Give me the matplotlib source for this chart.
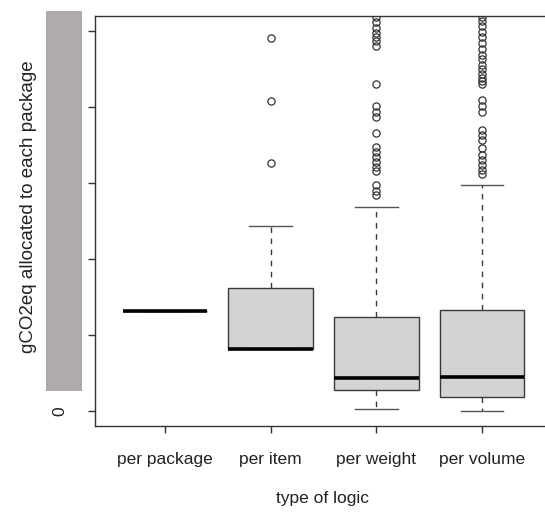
import matplotlib
matplotlib.use("Agg")
import matplotlib.pyplot as plt
from matplotlib.patches import Rectangle

plt.rcParams['font.family'] = ['Liberation Sans', 'DejaVu Sans']

categories = ["per package", "per item", "per weight", "per volume"]
q1 = [1.31, 0.81, 0.27, 0.18]
median = [1.31, 0.81, 0.43, 0.45]
q3 = [1.31, 1.62, 1.24, 1.33]
whisker_low = [1.31, 0.81, 0.02, 0.0]
whisker_high = [1.31, 2.43, 2.69, 2.98]
outliers_package = []
outliers_item = [4.91, 4.08, 3.26]
outliers_weight = [5.19, 5.12, 5.04, 4.97, 4.92, 4.87, 4.80, 4.31, 4.01, 3.94,
                   3.87, 3.66, 3.47, 3.41, 3.34, 3.28, 3.21, 3.16, 2.97, 2.90, 2.84]
outliers_volume = [5.19, 5.13, 5.07, 4.99, 4.92, 4.85, 4.76, 4.69, 4.63, 4.56,
                   4.50, 4.43, 4.39, 4.34, 4.30, 4.10, 4.01, 3.94, 3.70, 3.63,
                   3.57, 3.46, 3.37, 3.30, 3.24, 3.17, 3.12]
outliers = [outliers_package, outliers_item, outliers_weight, outliers_volume]
y_ticks = [0, 1, 2, 3, 4, 5]
y_tick_labels = ["0", "", "", "", "", ""]
x_label = "type of logic"
y_label = "gCO2eq allocated to each package"

W, H = 545, 515
fig = plt.figure(figsize=(W / 100, H / 100), dpi=100)
ax = fig.add_axes([95 / W, 1 - 426 / H, (552 - 95) / W, (426 - 16) / H])

stats = []
for i, c in enumerate(categories):
    stats.append(dict(label=c, q1=q1[i], med=median[i], q3=q3[i],
                      whislo=whisker_low[i], whishi=whisker_high[i],
                      fliers=outliers[i]))

ax.bxp(stats, positions=[1, 2, 3, 4], widths=0.8, patch_artist=True,
       capwidths=0.4,
       boxprops=dict(facecolor='#d3d3d3', edgecolor='#3a3a3a', linewidth=1.0),
       whiskerprops=dict(color='#3a3a3a', linestyle=(0, (4, 4)), linewidth=1.0),
       capprops=dict(color='#555555', linewidth=1.0),
       medianprops=dict(color='black', linewidth=2.6, solid_capstyle='butt'),
       flierprops=dict(marker='o', markerfacecolor='none', markeredgecolor='#333333',
                       markersize=5.2, markeredgewidth=0.9, linestyle='none'))

ax.set_xlim(0.34, 4.66)
ax.set_ylim(-0.2, 5.2)
ax.set_yticks(y_ticks)
ax.set_yticklabels(y_tick_labels, rotation=90, va='center')
ax.set_xticks([1, 2, 3, 4])
ax.set_xticklabels(categories)
ax.tick_params(axis='both', direction='out', length=5, width=1.0, colors='#333333',
               labelcolor='#222222', labelsize=12.5)
ax.tick_params(axis='y', pad=15)
ax.tick_params(axis='x', pad=14)
for s in ax.spines.values():
    s.set_color('#333333')
    s.set_linewidth(1.0)

fig.text(322 / W, 1 - 498 / H, x_label, ha='center', va='center', fontsize=12.5, color='#222222')
fig.text(29 / W, 1 - 207 / H, y_label, ha='center', va='center', rotation=90,
         fontsize=13.5, color='#222222')

fig.patches.append(Rectangle((46 / W, 1 - 391 / H), (82 - 46) / W, (391 - 11) / H,
                             transform=fig.transFigure, facecolor='#b0abab',
                             edgecolor='none', zorder=5))

fig.savefig("out.png", dpi=100)
